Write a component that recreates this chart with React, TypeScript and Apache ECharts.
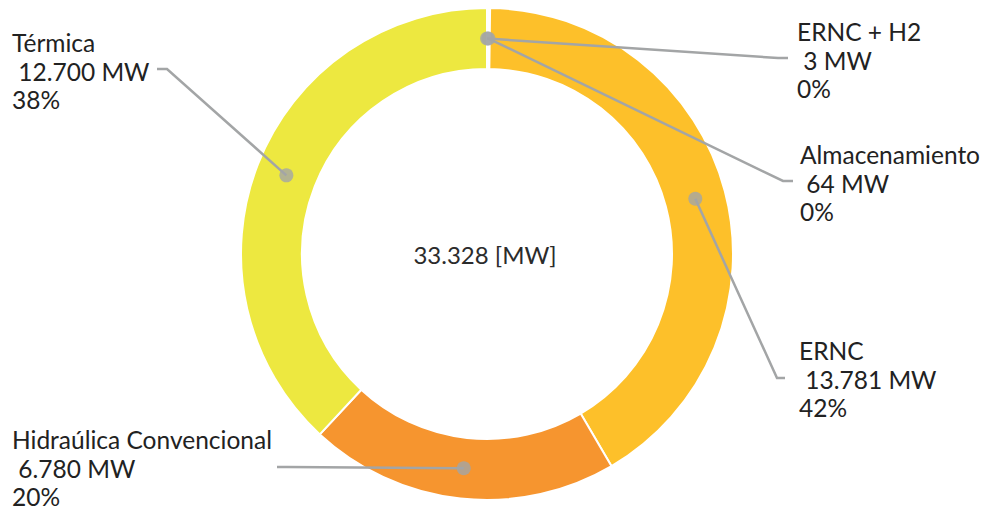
import React, { useEffect, useRef } from 'react';
import * as echarts from 'echarts';

const categories = ['ERNC + H2', 'Almacenamiento', 'ERNC', 'Hidraúlica Convencional', 'Térmica'];
const capacityMW = [3, 64, 13781, 6780, 12700];
const sliceColors = ['#ffffff', '#ffffff', '#FDC02A', '#F6952F', '#EDE840'];
const unitLabel = 'MW';

// label guide geometry (elbow, end of leader line, text anchor)
const labelGuides = [
  { elbow: [778, 58], end: [788, 58], text: [797, 60] },
  { elbow: [783, 181], end: [793, 181], text: [800, 183] },
  { elbow: [777, 378], end: [785, 378], text: [799, 379] },
  { elbow: [287, 467], end: [277, 467], text: [12, 468] },
  { elbow: [167, 69], end: [157, 69], text: [12, 71] },
];

const fmt = (v: number) => String(v).replace(/\B(?=(\d{3})+(?!\d))/g, '.');

export default function App() {
  const ref = useRef<HTMLDivElement>(null);
  useEffect(() => {
    const chart = echarts.init(ref.current!, null, { renderer: 'svg' });
    const cx = 487, cy = 254, rIn = 185, rOut = 246;
    const rMid = (rIn + rOut) / 2;
    const total = capacityMW.reduce((a, b) => a + b, 0);
    const mids: number[] = [];
    let acc = 0;
    capacityMW.forEach((v) => { mids.push(acc + v / 2); acc += v; });
    const lineColor = '#a3a5a6';
    const pieData = categories.map((n, i) => ({ name: n, value: capacityMW[i] }));
    chart.setOption({
      animation: false,
      polar: { center: [cx, cy], radius: rOut },
      angleAxis: {
        type: 'value', min: 0, max: total, startAngle: 90, clockwise: true, show: false,
        axisLine: { show: false }, axisTick: { show: false }, axisLabel: { show: false }, splitLine: { show: false },
      },
      radiusAxis: {
        type: 'value', min: 0, max: rOut, show: false,
        axisLine: { show: false }, axisTick: { show: false }, axisLabel: { show: false }, splitLine: { show: false },
      },
      series: [
        {
          type: 'pie',
          z: 2,
          center: [cx, cy],
          radius: [rIn, rOut],
          startAngle: 90,
          clockwise: true,
          silent: true,
          itemStyle: { borderColor: '#ffffff', borderWidth: 2 },
          data: pieData.map((d, i) => ({ ...d, itemStyle: { color: sliceColors[i] } })),
          label: { show: false },
          labelLine: { show: false },
        },
        {
          type: 'pie',
          z: 5,
          center: [cx, cy],
          radius: [rIn, rOut],
          startAngle: 90,
          clockwise: true,
          percentPrecision: 0,
          silent: true,
          avoidLabelOverlap: false,
          itemStyle: { color: 'rgba(0,0,0,0)', borderWidth: 0 },
          data: pieData,
          label: {
            show: true,
            formatter: (p: any) => `${p.name}\n ${fmt(p.value)} ${unitLabel}\n${p.percent}%`,
            fontFamily: 'Lato',
            fontSize: 24.5,
            lineHeight: 28.5,
            color: '#222222',
          },
          labelLine: { show: true, lineStyle: { color: lineColor, width: 2.5 } },
          labelLayout: (params: any) => {
            const i = params.dataIndex;
            const g = labelGuides[i];
            const a = -Math.PI / 2 + (mids[i] / total) * Math.PI * 2;
            const start = [cx + rMid * Math.cos(a), cy + rMid * Math.sin(a)];
            return {
              x: g.text[0],
              y: g.text[1],
              align: 'left',
              verticalAlign: 'middle',
              labelLinePoints: [start, g.elbow, g.end],
            };
          },
        },
        {
          type: 'scatter',
          coordinateSystem: 'polar',
          data: mids.map((m) => [rMid, m]),
          symbol: 'circle',
          symbolSize: 14,
          itemStyle: { color: lineColor },
          z: 10,
          silent: true,
        },
      ],
      graphic: [
        {
          type: 'text',
          x: 485,
          y: 254,
          style: {
            text: `${fmt(total)} [${unitLabel}]`,
            textAlign: 'center',
            textVerticalAlign: 'middle',
            fontFamily: 'Lato',
            fontSize: 24,
            fill: '#2b2b2b',
          },
        },
      ],
    });
    return () => chart.dispose();
  }, []);
  return <div ref={ref} style={{ position: 'absolute', left: 0, top: 0, width: 986, height: 510 }} />;
}
